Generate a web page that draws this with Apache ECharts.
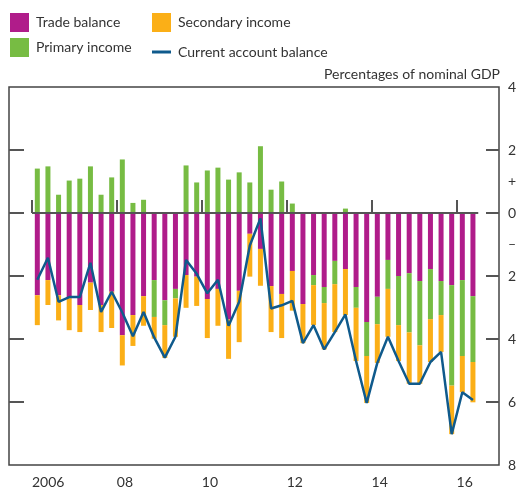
<!DOCTYPE html>
<html>
<head>
<meta charset="utf-8">
<script src="https://cdn.jsdelivr.net/npm/echarts@6/dist/echarts.min.js"></script>
<style>
html,body{margin:0;padding:0;background:#fff;}
#chart{width:517px;height:488px;}
</style>
</head>
<body>
<div id="chart"></div>
<script>
// Quarterly categories 2006 Q1 – 2016 Q2
var quarters = [
  '2006Q1','2006Q2','2006Q3','2006Q4','2007Q1','2007Q2','2007Q3','2007Q4',
  '2008Q1','2008Q2','2008Q3','2008Q4','2009Q1','2009Q2','2009Q3','2009Q4',
  '2010Q1','2010Q2','2010Q3','2010Q4','2011Q1','2011Q2','2011Q3','2011Q4',
  '2012Q1','2012Q2','2012Q3','2012Q4','2013Q1','2013Q2','2013Q3','2013Q4',
  '2014Q1','2014Q2','2014Q3','2014Q4','2015Q1','2015Q2','2015Q3','2015Q4',
  '2016Q1','2016Q2'
];
var tradeBalance = [
  -2.61,-2.13,-2.61,-2.71,-2.92,-2.21,-2.92,-2.50,
  -3.88,-3.24,-2.64,-2.13,-2.77,-2.41,-1.97,-2.02,
  -2.73,-2.41,-3.38,-2.47,-0.66,-1.14,-2.32,-2.57,
  -1.84,-2.89,-1.97,-2.35,-1.52,-1.78,-2.35,-3.46,
  -2.66,-1.49,-2.00,-1.91,-2.16,-1.78,-2.16,-2.29,
  -2.13,-2.64
];
var primaryIncome = [
  1.41,1.48,0.58,1.03,1.09,1.48,0.58,1.13,
  1.70,0.32,0.42,-1.17,-0.79,-0.30,1.51,0.97,
  1.35,1.44,1.06,1.29,0.97,2.12,0.74,1.00,
  0.30,0.00,-0.32,-0.51,-0.74,0.14,-0.66,-1.08,
  -0.87,-0.92,-1.56,-1.88,-2.04,-1.59,-1.08,-3.19,
  -2.41,-2.09
];
var secondaryIncome = [
  -0.95,-0.79,-0.80,-1.01,-0.86,-0.87,-0.86,-1.15,
  -0.96,-0.98,-0.94,-0.69,-1.04,-1.22,-1.04,-0.93,
  -1.24,-1.17,-1.25,-1.63,-1.36,-1.17,-1.46,-1.40,
  -1.26,-1.24,-1.27,-1.47,-1.52,-1.46,-1.69,-1.49,
  -1.23,-1.52,-1.14,-1.63,-1.22,-1.36,-1.17,-1.54,
  -1.15,-1.28
];
var currentAccount = [
  -2.12,-1.42,-2.82,-2.67,-2.67,-1.58,-3.14,-2.50,
  -3.16,-3.91,-3.14,-3.95,-4.59,-3.93,-1.49,-1.93,
  -2.55,-2.12,-3.58,-2.82,-1.03,-0.17,-3.03,-2.93,
  -2.79,-4.13,-3.56,-4.33,-3.78,-3.22,-4.70,-6.03,
  -4.76,-3.93,-4.70,-5.42,-5.42,-4.73,-4.41,-7.02,
  -5.69,-5.94
];
var yearTicks = [2006, 2008, 2010, 2012, 2014, 2016];
var yTicks = [2, 0, -2, -4, -6];
var yLabelValues = [4, 2, 1, 0, -1, -2, -4, -6, -8];

var FONT = 'Lato';
var TXT = '#333333';
var AX = '#555555';

var chart = echarts.init(document.getElementById('chart'), null, {renderer: 'canvas'});

function legendItem(name, left, top, iw, ih) {
  return {
    left: left, top: top, orient: 'horizontal',
    data: [{name: name, icon: 'rect'}],
    itemWidth: iw, itemHeight: ih,
    padding: 0,
    selectedMode: false,
    textStyle: {fontFamily: FONT, fontSize: 14, color: TXT, padding: [0, 0, 0, 2]}
  };
}

chart.setOption({
  animation: false,
  textStyle: {fontFamily: FONT},
  legend: [
    legendItem('Trade balance', 10, 13, 19, 19),
    legendItem('Secondary income', 152, 13, 19, 19),
    legendItem('Primary income', 10, 38, 19, 19),
    legendItem('Current account balance', 152, 45, 19, 3)
  ],
  graphic: [{
    type: 'text', right: 17, top: 67,
    style: {text: 'Percentages of nominal GDP', fontFamily: FONT, fontSize: 14, fill: TXT}
  }],
  grid: [{
    // frame, ticks and labels (years on a value scale)
    left: 9, right: 18, top: 87, bottom: 23,
    show: true, borderColor: '#444444', borderWidth: 1.5,
    outerBoundsMode: 'none', containLabel: false
  }, {
    // bars and line: 2006 Q1 .. 2016 Q2 exactly
    left: 32, right: 38.75, top: 87, bottom: 23,
    show: false, outerBoundsMode: 'none', containLabel: false
  }],
  xAxis: [{
    gridIndex: 0,
    type: 'value', min: 2005.46, max: 2017.0,
    axisLine: {show: false},
    splitLine: {show: false},
    axisTick: {show: true, inside: true, length: 13, customValues: yearTicks,
      lineStyle: {color: AX, width: 2}},
    axisLabel: {show: true, customValues: yearTicks, align: 'left', margin: 10,
      fontFamily: FONT, fontSize: 14, color: TXT,
      formatter: function (v) { return v === 2006 ? '2006' : String(v).slice(2); }}
  }, {
    gridIndex: 1,
    type: 'category', data: quarters, boundaryGap: true, show: false
  }],
  yAxis: [{
    gridIndex: 0,
    type: 'value', position: 'right', min: -8, max: 4, interval: 1,
    axisLine: {show: false},
    splitLine: {show: false},
    axisTick: {show: true, inside: true, length: 13, customValues: yTicks,
      lineStyle: {color: AX, width: 2}},
    axisLabel: {show: true, customValues: yLabelValues, margin: 9,
      fontFamily: FONT, fontSize: 14, color: TXT,
      formatter: function (v) {
        if (v === 1) return '+';
        if (v === -1) return '\u2013';
        return String(Math.abs(v));
      }}
  }, {
    gridIndex: 0,
    type: 'value', position: 'left', min: -8, max: 4, interval: 1,
    axisLine: {show: false},
    splitLine: {show: false},
    axisTick: {show: true, inside: true, length: 15, customValues: yTicks,
      lineStyle: {color: AX, width: 2}},
    axisLabel: {show: false}
  }, {
    gridIndex: 1,
    type: 'value', min: -8, max: 4, show: false, splitLine: {show: false}
  }],
  series: [{
    name: 'Trade balance', type: 'bar', stack: 'ca', barWidth: 5,
    xAxisIndex: 1, yAxisIndex: 2,
    itemStyle: {color: '#B01C8A'},
    data: tradeBalance
  }, {
    name: 'Primary income', type: 'bar', stack: 'ca', barWidth: 5,
    xAxisIndex: 1, yAxisIndex: 2,
    itemStyle: {color: '#77BC43'},
    data: primaryIncome
  }, {
    name: 'Secondary income', type: 'bar', stack: 'ca', barWidth: 5,
    xAxisIndex: 1, yAxisIndex: 2,
    itemStyle: {color: '#FBAF17'},
    data: secondaryIncome
  }, {
    name: 'Current account balance', type: 'line', symbol: 'none', z: 5,
    xAxisIndex: 1, yAxisIndex: 2,
    itemStyle: {color: '#0F5A8C'},
    lineStyle: {color: '#0F5A8C', width: 2.5},
    data: currentAccount,
    markLine: {
      silent: true, symbol: 'none', label: {show: false},
      lineStyle: {color: '#555555', width: 2, type: 'solid'},
      data: [{yAxis: 0}]
    }
  }]
});
</script>
</body>
</html>
